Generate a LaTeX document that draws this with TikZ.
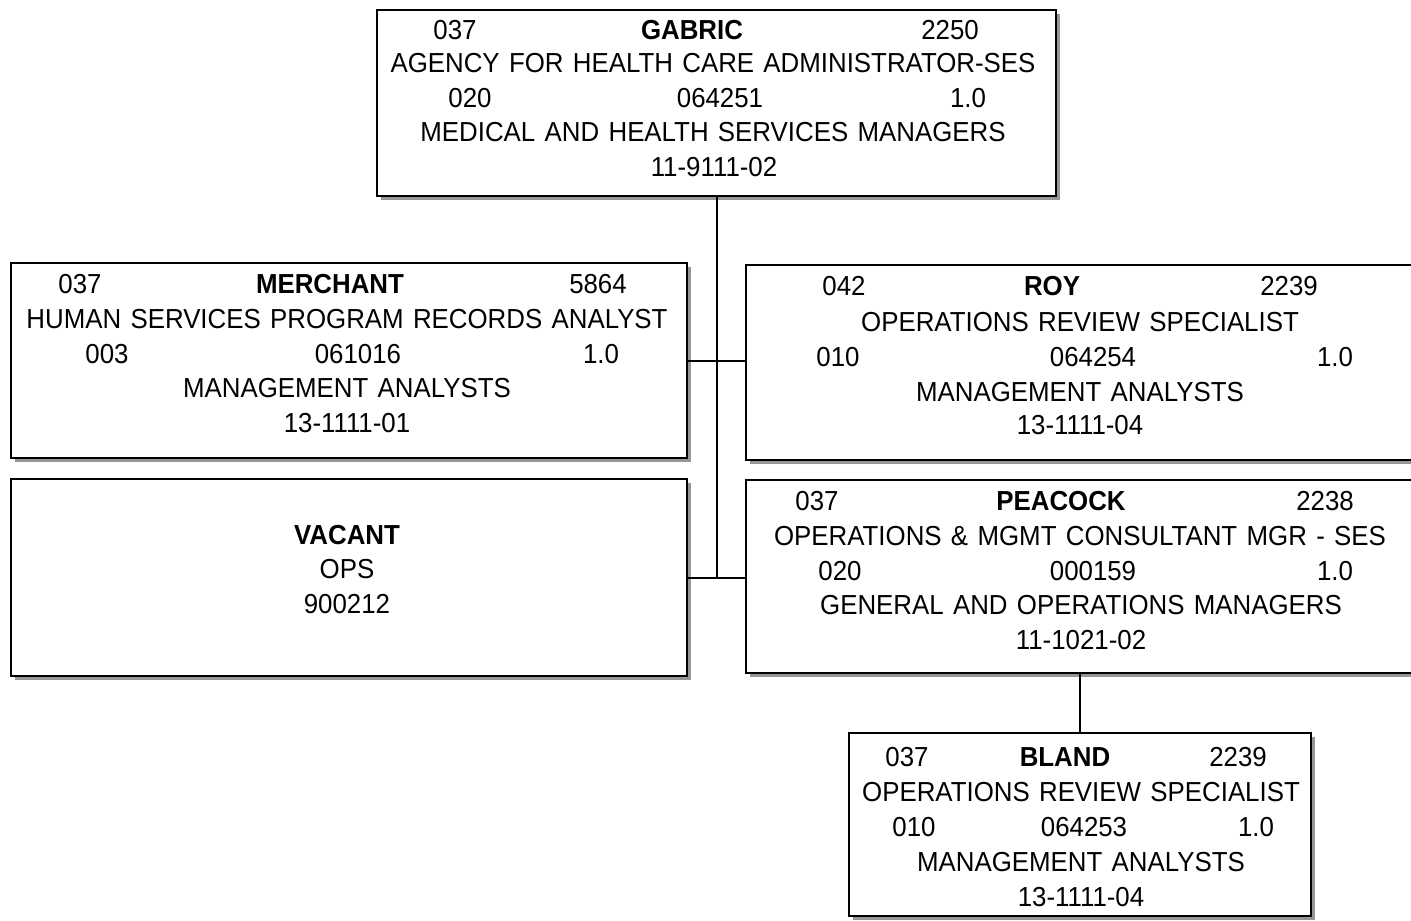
\documentclass[tikz,border=0pt]{standalone}
\usepackage{fontspec}
\setmainfont{Liberation Sans}[FakeStretch=0.94,WordSpace=1.3]
\usetikzlibrary{shadows}
\definecolor{Shade}{RGB}{150,150,150}

\tikzset{
  post/.style={draw,line width=2pt,fill=white,anchor=north west,inner sep=0pt,
    drop shadow={shadow xshift=4pt,shadow yshift=-4pt,fill=Shade,opacity=1}},
  txt/.style={font=\fontsize{27.5}{32}\selectfont,inner sep=0pt},
  nm/.style={txt,font=\fontsize{27.5}{32}\selectfont\bfseries},
  link/.style={line width=2pt}
}

\begin{document}
\begin{tikzpicture}[x=1pt,y=-1pt]
\useasboundingbox (0,0) rectangle (1411,921);

\node[post,minimum width=679pt,minimum height=186pt] (gabric) at (376,9) {};
\node[post,minimum width=676pt,minimum height=195pt] (merchant) at (10,262) {};
\node[post,minimum width=676pt,minimum height=197pt] (vacant) at (10,478) {};
\node[post,minimum width=670pt,minimum height=195pt] (roy) at (745,264) {};
\node[post,minimum width=670pt,minimum height=193pt] (peacock) at (745,479) {};
\node[post,minimum width=462pt,minimum height=183pt] (bland) at (848,732) {};

\draw[link] (gabric.south) -- (gabric.south |- vacant.east);
\draw[link] (merchant.east) -- (merchant.east -| roy.west);
\draw[link] (vacant.east) -- (vacant.east -| peacock.west);
\draw[link] (bland.north |- peacock.south) -- (bland.north);

\node[nm] (gname) at (692,30) {GABRIC};
\foreach \n/\x/\y/\t in {ga/455/30/037, gb/950/30/2250,
    gc/713/63/AGENCY FOR HEALTH CARE ADMINISTRATOR-SES,
    gd/470/98/020, ge/720/98/064251, gf/968/98/1.0,
    gg/713/132/MEDICAL AND HEALTH SERVICES MANAGERS, gh/714/167/11-9111-02}
  \node[txt] (\n) at (\x,\y) {\t};

\node[nm] (mname) at (330,284) {MERCHANT};
\foreach \n/\x/\y/\t in {ma/80/284/037, mb/598/284/5864,
    mc/347/319/HUMAN SERVICES PROGRAM RECORDS ANALYST,
    md/107/354/003, me/358/354/061016, mf/601/354/1.0,
    mg/347/388/MANAGEMENT ANALYSTS, mh/347/423/13-1111-01}
  \node[txt] (\n) at (\x,\y) {\t};

\node[nm] (vname) at (347,535) {VACANT};
\node[txt] (va) at (347,569) {OPS};
\node[txt] (vb) at (347,604) {900212};

\node[nm] (rname) at (1052,286) {ROY};
\foreach \n/\x/\y/\t in {ra/844/286/042, rb/1289/286/2239,
    rc/1080/322/OPERATIONS REVIEW SPECIALIST,
    rd/838/357/010, re/1093/357/064254, rf/1335/357/1.0,
    rg/1080/392/MANAGEMENT ANALYSTS, rh/1080/425/13-1111-04}
  \node[txt] (\n) at (\x,\y) {\t};

\node[nm] (pname) at (1061,501) {PEACOCK};
\foreach \n/\x/\y/\t in {pa/817/501/037, pb/1325/501/2238,
    pc/1080/536/OPERATIONS \& MGMT CONSULTANT MGR - SES,
    pd/840/571/020, pe/1093/571/000159, pf/1335/571/1.0,
    pg/1081/605/GENERAL AND OPERATIONS MANAGERS, ph/1081/640/11-1021-02}
  \node[txt] (\n) at (\x,\y) {\t};

\node[nm] (bname) at (1065,757) {BLAND};
\foreach \n/\x/\y/\t in {ba/907/757/037, bb/1238/757/2239,
    bc/1081/792/OPERATIONS REVIEW SPECIALIST,
    bd/914/827/010, be/1084/827/064253, bf/1256/827/1.0,
    bg/1081/862/MANAGEMENT ANALYSTS, bh/1081/897/13-1111-04}
  \node[txt] (\n) at (\x,\y) {\t};
\end{tikzpicture}
\end{document}
